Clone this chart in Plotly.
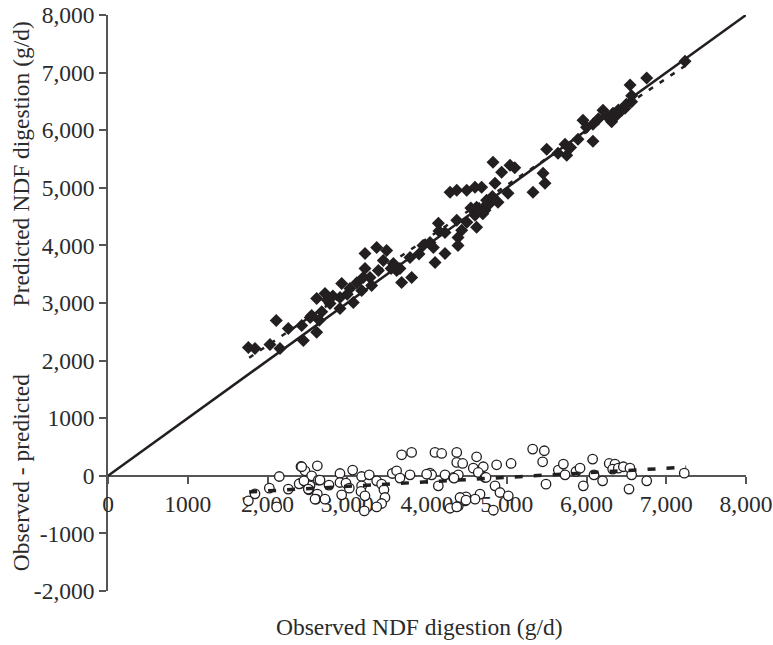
import plotly.graph_objects as go

# ---------------- data ----------------
obs_x = [1760, 1843, 2031, 2157, 2110, 2261, 2429, 2450, 2535, 2554, 2617, 2617, 2721, 2784,
         2909, 2930, 2909, 3034, 3076, 3181, 3200, 3223, 3223, 3306, 3285, 3369, 3494, 3452,
         3390, 3578, 3620, 3661, 3787, 3682, 3808, 4038, 4080, 4143, 4101, 4226, 4226, 4373,
         4389, 4435, 4602, 4622, 4702, 4790, 4289, 4373, 4498, 4602, 4685, 4853, 4828, 4936,
         5041, 5016, 4890, 4748, 4622, 4727, 4389, 5329, 5455, 5480, 5501, 5643, 5731, 5752,
         5893, 5956, 6081, 6081, 6207, 6315, 6332, 6378, 6441, 6483, 6566, 6566, 6546, 6755,
         7235, 2650, 2680, 2750, 2820, 3000, 3120, 3550, 3900, 3950, 4150, 4500, 4550, 4700,
         4820, 5100, 5800, 6000, 6150, 6250, 6400, 6500]
pred_y = [2226, 2209, 2278, 2209, 2696, 2557, 2609, 2348, 2748, 2783, 2492, 3078, 3165, 2991,
          2904, 3339, 3096, 3252, 3009, 3217, 3443, 3600, 3861, 3304, 3443, 3965, 3913, 3739,
          3565, 3687, 3565, 3600, 3791, 3357, 3443, 4052, 3965, 4383, 3704, 3861, 4226, 4435,
          4000, 4261, 4522, 4313, 4643, 4730, 4922, 4957, 4957, 5009, 5009, 5078, 5443, 5270,
          5391, 4904, 4748, 4783, 4661, 4609, 4139, 4922, 5252, 5078, 5670, 5600, 5757, 5565,
          5843, 6174, 6104, 5809, 6348, 6145, 6296, 6261, 6348, 6383, 6493, 6600, 6783, 6905,
          7195, 2700, 2850, 3050, 3120, 3150, 3350, 3600, 3850, 4000, 4250, 4400, 4650, 4550,
          4850, 5350, 5700, 6050, 6200, 6250, 6350, 6450]

res_x = [1760, 1843, 2023, 2148, 2115, 2261, 2420, 2470, 2625, 2554, 2408, 2533, 2520, 2637,
         2625, 2608, 2721, 2771, 2909, 2909, 2984, 3026, 3068, 2930, 3180, 3276, 3180, 3172,
         3222, 3214, 3369, 3431, 3460, 3473, 3431, 3369, 3565, 3619, 3661, 3787, 3682, 3807,
         4038, 4058, 4142, 4100, 4184, 4226, 4373, 4373, 4288, 4393, 4447, 4331, 4393, 4622,
         4580, 4706, 4643, 4727, 4873, 5054, 4853, 4915, 5019, 4665, 4602, 4489, 4477, 4414,
         4373, 4832, 5325, 5471, 5450, 5492, 5647, 5710, 5731, 5868, 5919, 5960, 6094, 6077,
         6202, 6285, 6357, 6328, 6399, 6462, 6545, 6566, 6533, 6755, 7226, 2397, 2429, 2457,
         2512, 2596, 2658, 3996, 4339, 4489, 4740]
res_y = [-435, -313, -214, -12, -539, -231, 162, 87, 174, 0, -133, -174, -243, -75,
         -319, -406, -406, -162, 40, -116, -128, -214, 99, -330, -12, 17, -174, -272,
         -348, -609, -87, -145, -243, -377, -481, -539, 40, 87, -40, 17, 365, 406,
         46, 17, -174, 406, 388, 17, 406, 232, -563, -522, 214, -29, 17, 330,
         133, 157, 58, -29, 191, 214, -174, -290, -348, -319, -406, -365, -435, -377,
         -539, -597, 464, 435, 243, -145, 99, 203, 17, 75, 133, -174, 17, 290,
         -87, 214, 203, 116, 133, 157, 133, 17, -231, -87, 46, -139, 157, -87,
         -231, -406, -75, 29, -40, -423, -29]

line_x = [0, 8000]
line_y = [0, 8000]
fit_x = [1770, 7250]
fit_pred = [2050, 7130]
fit_res = [-280, 150]

x_ticks = [0, 1000, 2000, 3000, 4000, 5000, 6000, 7000, 8000]
x_tick_text = ["0", "1000", "2,000", "3,000", "4,000", "5,000", "6,000", "7,000", "8,000"]
y_ticks = [-2000, -1000, 0, 1000, 2000, 3000, 4000, 5000, 6000, 7000, 8000]
y_tick_text = ["-2,000", "-1000", "0", "1000", "2,000", "3,000", "4,000", "5,000", "6,000",
               "7,000", "8,000"]

FONT = "Liberation Serif, Times New Roman, Times, serif"
INK = "#231f20"
TXT = "#2b2b2b"
AX = "#555555"
FS = 23.5

fig = go.Figure()
fig.add_trace(go.Scatter(x=obs_x, y=pred_y, mode="markers",
                         marker=dict(symbol="diamond", size=10, color=INK, line=dict(width=0)),
                         showlegend=False, cliponaxis=False))
fig.add_trace(go.Scatter(x=line_x, y=line_y, mode="lines",
                         line=dict(color=INK, width=2.5), showlegend=False))
fig.add_trace(go.Scatter(x=fit_x, y=fit_pred, mode="lines",
                         line=dict(color=INK, width=2.5, dash="5px,8px"), showlegend=False))
fig.add_trace(go.Scatter(x=res_x, y=res_y, mode="markers",
                         marker=dict(symbol="circle", size=9.5, color="white",
                                     line=dict(color=INK, width=1.3)),
                         showlegend=False, cliponaxis=False))
fig.add_trace(go.Scatter(x=fit_x, y=fit_res, mode="lines",
                         line=dict(color=INK, width=3.5, dash="8px,11px"), showlegend=False))

fig.update_layout(
    width=773, height=645, autosize=False,
    margin=dict(l=108, r=27, t=15, b=54),
    paper_bgcolor="white", plot_bgcolor="white",
    font=dict(family=FONT, size=FS, color=TXT),
    showlegend=False,
    xaxis=dict(range=[0, 8000], tickvals=x_ticks, ticktext=x_tick_text,
               showgrid=False, zeroline=False, showline=True, linecolor=AX, linewidth=1.5,
               ticks="outside", ticklen=7, tickwidth=1.5, tickcolor=AX,
               anchor="free", position=0.2, layer="below traces", automargin=False,
               tickfont=dict(family=FONT, size=FS, color=TXT)),
    yaxis=dict(range=[-2000, 8000], tickvals=y_ticks, ticktext=y_tick_text,
               showgrid=False, zeroline=False, showline=True, linecolor=AX, linewidth=1.5,
               ticks="outside", ticklen=7, tickwidth=1.5, tickcolor=AX,
               layer="below traces", automargin=False,
               tickfont=dict(family=FONT, size=FS, color=TXT)),
    annotations=[
        dict(text="Observed NDF digestion (g/d)", xref="paper", yref="paper",
             x=0.489, y=-0.0625, xanchor="center", yanchor="middle", showarrow=False,
             font=dict(family=FONT, size=FS, color=TXT)),
        dict(text="Predicted NDF digestion (g/d)", xref="paper", yref="paper",
             x=-0.136, y=0.741, xanchor="center", yanchor="middle", showarrow=False,
             textangle=-90, font=dict(family=FONT, size=FS, color=TXT)),
        dict(text="Observed - predicted", xref="paper", yref="paper",
             x=-0.136, y=0.205, xanchor="center", yanchor="middle", showarrow=False,
             textangle=-90, font=dict(family=FONT, size=FS, color=TXT)),
    ],
)

fig.write_html("out.html")
